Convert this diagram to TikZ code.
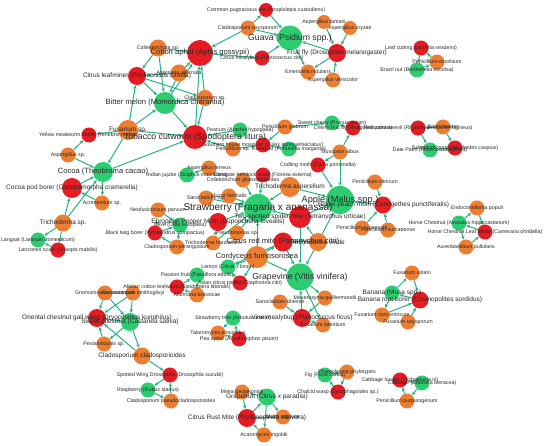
\documentclass[tikz,border=0pt]{standalone}
\usepackage{fontspec}
\setmainfont{Liberation Sans}
\usetikzlibrary{arrows.meta}
\definecolor{hostgreen}{RGB}{46,204,113}
\definecolor{pestred}{RGB}{229,28,35}
\definecolor{fungorange}{RGB}{237,125,49}
\definecolor{linkgreen}{RGB}{40,178,132}
\definecolor{labgrey}{RGB}{40,40,40}
\tikzstyle{host} = [circle, fill=hostgreen, inner sep=0pt, minimum size=15pt]
\tikzstyle{pest} = [circle, fill=pestred, inner sep=0pt, minimum size=15pt]
\tikzstyle{fungus} = [circle, fill=fungorange, inner sep=0pt, minimum size=15pt]
\tikzstyle{link} = [draw=linkgreen, line width=1pt, -{Stealth[length=3.8pt,width=3.4pt]}]
\tikzstyle{lab} = [inner sep=0pt, text=labgrey, font=\fontsize{5.3}{6}\selectfont]
\tikzstyle{labm} = [lab, font=\fontsize{6.5}{7}\selectfont]
\tikzstyle{labb} = [lab, font=\fontsize{7.6}{8}\selectfont]
\tikzstyle{labh} = [lab, font=\fontsize{8.7}{9}\selectfont]
\pgfdeclarelayer{background}
\pgfdeclarelayer{foreground}
\pgfsetlayers{background,main,foreground}

\begin{document}
\begin{tikzpicture}[x=1pt,y=-1pt]
    \useasboundingbox (0,0) rectangle (550,446);

    % hosts
    \node[host, minimum size=25pt] (gua) at (290,38) {};
    \node[host, minimum size=22pt] (bit) at (165,103) {};
    \node[host, minimum size=20pt] (coc) at (103,172) {};
    \node[host] (lan) at (38,240) {};
    \node[host] (juj) at (187,175) {};
    \node[host] (pnt) at (240,130) {};
    \node[host] (kum) at (289,149) {};
    \node[host] (che) at (332,123) {};
    \node[host] (bra) at (417,70) {};
    \node[host] (dat) at (430,150) {};
    \node[host, minimum size=28pt] (str) at (258,208) {};
    \node[host, minimum size=28pt] (app) at (340,200) {};
    \node[host, minimum size=27pt] (gra) at (300,277) {};
    \node[host] (oli) at (180,225) {};
    \node[host] (lem) at (228,267) {};
    \node[host] (pas) at (197,275) {};
    \node[host] (hor) at (459,223) {};
    \node[host] (ban) at (392,293) {};
    \node[host] (stt) at (233,318) {};
    \node[host, minimum size=18pt] (sch) at (130,322) {};
    \node[host] (ras) at (148,390) {};
    \node[host, minimum size=17pt] (grf) at (267,397) {};
    \node[host] (fig) at (325,375) {};
    \node[host] (cab) at (422,383) {};

    % pests
    \node[pest, minimum size=26pt] (apg) at (200,53) {};
    \node[pest, minimum size=14pt] (ant) at (266,10) {};
    \node[pest] (cmb) at (262,58) {};
    \node[pest, minimum size=18pt] (ffl) at (337,53) {};
    \node[pest, minimum size=18pt] (clm) at (137,76) {};
    \node[pest, minimum size=24pt] (tcw) at (195,137) {};
    \node[pest] (ymw) at (89,135) {};
    \node[pest, minimum size=20pt] (cpb) at (72,188) {};
    \node[pest] (lsc) at (58,250) {};
    \node[pest] (shm) at (263,145) {};
    \node[pest] (cfr) at (353,128) {};
    \node[pest] (lca) at (421,48) {};
    \node[pest] (rpw) at (418,128) {};
    \node[pest] (smq) at (455,148) {};
    \node[pest] (hem) at (263,175) {};
    \node[pest] (cdm) at (318,165) {};
    \node[pest, minimum size=17pt] (ypm) at (383,205) {};
    \node[pest, minimum size=18pt] (epm) at (218,222) {};
    \node[pest, minimum size=22pt] (tsm) at (300,217) {};
    \node[pest, minimum size=19pt] (crm) at (283,242) {};
    \node[pest] (btb) at (155,233) {};
    \node[pest] (acp) at (240,283) {};
    \node[pest] (acl) at (177,287) {};
    \node[pest] (hlm) at (485,232) {};
    \node[pest, minimum size=17pt] (brb) at (420,300) {};
    \node[pest, minimum size=18pt] (vmb) at (302,318) {};
    \node[pest] (pap) at (239,339) {};
    \node[pest, minimum size=18pt] (ocg) at (97,318) {};
    \node[pest] (swd) at (170,375) {};
    \node[pest, minimum size=18pt] (crt) at (247,418) {};
    \node[pest] (chw) at (338,392) {};
    \node[pest] (cbl) at (400,380) {};

    % fungi
    \node[fungus, minimum size=17pt] (col) at (158,48) {};
    \node[fungus, minimum size=17pt] (alt) at (179,73) {};
    \node[fungus, minimum size=16pt] (cls) at (205,98) {};
    \node[fungus, minimum size=20pt] (fus) at (128,130) {};
    \node[fungus] (clo) at (248,28) {};
    \node[fungus, minimum size=14pt] (ata) at (324,22) {};
    \node[fungus, minimum size=14pt] (aor) at (350,28) {};
    \node[fungus] (emn) at (308,72) {};
    \node[fungus] (ave) at (333,80) {};
    \node[fungus] (asp) at (68,155) {};
    \node[fungus] (acr) at (102,203) {};
    \node[fungus, minimum size=17pt] (trs) at (63,223) {};
    \node[fungus] (pgl) at (285,127) {};
    \node[fungus] (pex) at (437,62) {};
    \node[fungus] (ent) at (443,127) {};
    \node[fungus] (pen) at (233,149) {};
    \node[fungus] (ate) at (209,168) {};
    \node[fungus] (cgl) at (243,180) {};
    \node[fungus] (mus) at (340,152) {};
    \node[fungus, minimum size=20pt] (tas) at (290,187) {};
    \node[fungus] (pci) at (375,182) {};
    \node[fungus] (pep) at (362,228) {};
    \node[fungus] (psu) at (388,230) {};
    \node[fungus] (nep) at (158,210) {};
    \node[fungus] (sro) at (206,198) {};
    \node[fungus] (muc) at (229,196) {};
    \node[fungus] (pse) at (237,233) {};
    \node[fungus] (tha) at (213,243) {};
    \node[fungus] (cpe) at (177,247) {};
    \node[fungus, minimum size=18pt] (tvi) at (318,242) {};
    \node[fungus, minimum size=22pt] (cfu) at (257,257) {};
    \node[fungus] (abr) at (197,295) {};
    \node[fungus] (edp) at (477,208) {};
    \node[fungus] (aup) at (466,247) {};
    \node[fungus] (fso) at (412,273) {};
    \node[fungus] (fco) at (382,315) {};
    \node[fungus] (fox) at (408,322) {};
    \node[fungus] (skl) at (280,302) {};
    \node[fungus] (mey) at (325,298) {};
    \node[fungus] (fla) at (323,325) {};
    \node[fungus] (tal) at (218,333) {};
    \node[fungus] (gca) at (105,293) {};
    \node[fungus] (gsm) at (133,293) {};
    \node[fungus] (pes) at (104,344) {};
    \node[fungus, minimum size=17pt] (ccl) at (142,356) {};
    \node[fungus] (cps) at (171,401) {};
    \node[fungus] (phy) at (347,372) {};
    \node[fungus] (ppu) at (407,401) {};
    \node[fungus] (mge) at (242,392) {};
    \node[fungus] (mar) at (283,417) {};
    \node[fungus] (aci) at (264,435) {};

    \begin{pgfonlayer}{background}
    \path (col) edge[link] (clm) edge[link] (bit) edge[link] (apg);
    \path (alt) edge[link] (clm) edge[link] (apg) edge[link] (bit);
    \path (clm) edge[link] (bit) edge[link] (cls);
    \path (bit) edge[link] (apg) edge[link] (tcw);
    \path (cls) edge[link] (apg) edge[link] (bit) edge[link] (tcw);
    \path (fus) edge[link] (bit) edge[link] (tcw) edge[link] (ymw) edge[link] (coc) edge[link] (clm);
    \path (tcw) edge[link] (apg);
    \path (pnt) edge[link] (tcw);
    \path (asp) edge[link] (ymw) edge[link] (coc);
    \path (cpb) edge[link] (coc);
    \path (acr) edge[link] (cpb);
    \path (coc) edge[link] (acr) edge[link] (tcw);
    \path (trs) edge[link] (cpb) edge[link] (coc) edge[link] (lsc) edge[link] (lan);
    \path (lsc) edge[link] (lan);
    \path (clo) edge[link] (apg) edge[link] (gua) edge[link] (ant);
    \path (ant) edge[link] (gua);
    \path (apg) edge[link] (cmb);
    \path (cmb) edge[link] (gua);
    \path (ffl) edge[link] (gua) edge[link] (emn);
    \path (ata) edge[link] (ffl);
    \path (aor) edge[link] (ffl);
    \path (ave) edge[link] (ffl);
    \path (gua) edge[link] (emn);
    \path (pen) edge[link] (tcw) edge[link] (shm);
    \path (pgl) edge[link] (shm) edge[link] (che);
    \path (shm) edge[link] (kum);
    \path (cfr) edge[link] (che);
    \path (mus) edge[link] (cfr) edge[link] (app) edge[link] (cdm);
    \path (cdm) edge[link] (app);
    \path (ypm) edge[link] (app);
    \path (pci) edge[link] (ypm);
    \path (pep) edge[link] (ypm);
    \path (psu) edge[link] (ypm);
    \path (tsm) edge[link] (app) edge[link] (str) edge[link] (gra);
    \path (tas) edge[link] (app) edge[link] (str);
    \path (tvi) edge[link] (app) edge[link] (tsm) edge[link] (gra) edge[link] (crm);
    \path (crm) edge[link] (gra) edge[link] (lem);
    \path (epm) edge[link] (str);
    \path (hem) edge[link] (str);
    \path (sro) edge[link] (str);
    \path (muc) edge[link] (str);
    \path (pse) edge[link] (str);
    \path (tha) edge[link] (str) edge[link] (epm);
    \path (cgl) edge[link] (str);
    \path (ate) edge[link] (juj);
    \path (cfu) edge[link] (str) edge[link] (acp) edge[link] (crm) edge[link] (lem) edge[link] (gra);
    \path (btb) edge[link] (oli);
    \path (nep) edge[link] (oli) edge[link] (btb);
    \path (cpe) edge[link] (btb);
    \path (oli) edge[link] (cpe);
    \path (acp) edge[link] (lem);
    \path (acl) edge[link] (pas);
    \path (abr) edge[link] (acl);
    \path (pas) edge[link] (abr);
    \path (vmb) edge[link] (gra);
    \path (mey) edge[link] (vmb);
    \path (skl) edge[link] (vmb);
    \path (fla) edge[link] (vmb);
    \path (gra) edge[link] (mey) edge[link] (fla);
    \path (stt) edge[link] (tal);
    \path (tal) edge[link] (pap);
    \path (pap) edge[link] (stt);
    \path (ocg) edge[link] (sch);
    \path (gca) edge[link] (ocg) edge[link] (sch);
    \path (gsm) edge[link] (ocg) edge[link] (sch);
    \path (pes) edge[link] (ocg);
    \path (sch) edge[link] (pes) edge[link] (ccl);
    \path (ccl) edge[link] (ocg) edge[link] (swd);
    \path (swd) edge[link] (ras);
    \path (cps) edge[link] (swd);
    \path (ras) edge[link] (cps);
    \path (crt) edge[link] (grf);
    \path (mge) edge[link] (crt);
    \path (mar) edge[link] (crt);
    \path (aci) edge[link] (crt);
    \path (grf) edge[link] (mge) edge[link] (mar) edge[link] (aci);
    \path (chw) edge[link] (fig);
    \path (phy) edge[link] (chw);
    \path (fig) edge[link] (phy);
    \path (cbl) edge[link] (cab);
    \path (ppu) edge[link] (cbl);
    \path (cab) edge[link] (ppu);
    \path (brb) edge[link] (ban);
    \path (fso) edge[link] (brb);
    \path (fco) edge[link] (brb);
    \path (fox) edge[link] (brb);
    \path (ban) edge[link] (fso) edge[link] (fco);
    \path (hlm) edge[link] (hor);
    \path (edp) edge[link] (hlm);
    \path (aup) edge[link] (hlm);
    \path (hor) edge[link] (edp) edge[link] (aup);
    \path (lca) edge[link] (bra);
    \path (pex) edge[link] (lca);
    \path (bra) edge[link] (pex);
    \path (rpw) edge[link] (dat);
    \path (ent) edge[link] (rpw) edge[link] (smq);
    \path (smq) edge[link] (dat);
    \end{pgfonlayer}

    \begin{pgfonlayer}{foreground}
    \node[labh] (tgua) at (gua) {Guava (Psidium spp.)};
    \node[labb] (tbit) at (bit) {Bitter melon (Momordica charantia)};
    \node[labb] (tcoc) at (coc) {Cocoa (Theobroma cacao)};
    \node[lab] (tlan) at (lan) {Langsat (Lansium domesticum)};
    \node[lab] (tjuj) at (juj) {Indian jujube (Ziziphus mauritiana)};
    \node[lab] (tpnt) at (pnt) {Peanuts (Arachis hypogaea)};
    \node[lab] (tkum) at (kum) {Kumquat (Fortunella margarita)};
    \node[lab] (tche) at (che) {Sweet cherry (Prunus avium)};
    \node[lab] (tbra) at (bra) {Brazil nut (Bertholletia excelsa)};
    \node[lab] (tdat) at (dat) {Date Palm (Phoenix dactylifera)};
    \node[lab, font=\fontsize{10}{11}\selectfont] (tstr) at (str) {Strawberry (Fragaria x ananassa)};
    \node[lab, font=\fontsize{9.2}{10}\selectfont] (tapp) at (app) {Apple (Malus spp.)};
    \node[labh] (tgra) at (gra) {Grapevine (Vitis vinifera)};
    \node[lab] (toli) at (oli) {Olive (Olea europaea)};
    \node[lab] (tlem) at (lem) {Lemon (Citrus x limon)};
    \node[lab] (tpas) at (pas) {Passion fruit (Passiflora edulis)};
    \node[lab] (thor) at (hor) {Horse Chestnut (Aesculus hippocastanum)};
    \node[labm] (tban) at (ban) {Banana (Musa spp.)};
    \node[lab] (tstt) at (stt) {Strawberry tree (Arbutus unedo)};
    \node[labm] (tsch) at (sch) {Sweet chestnut (Castanea sativa)};
    \node[lab] (tras) at (ras) {Raspberry (Rubus idaeus)};
    \node[labm] (tgrf) at (grf) {Grapefruit (Citrus x paradisi)};
    \node[lab] (tfig) at (fig) {Fig (Ficus carica)};
    \node[lab] (tcab) at (cab) {Cabbage (Brassica oleracea)};

    \node[labb] (tapg) at (apg) {Cotton aphid (Aphis gossypii)};
    \node[lab] (tant) at (ant) {Common pugnacious ant (Anoplolepis custodiens)};
    \node[lab] (tcmb) at (cmb) {Citrus mealybug (Planococcus citri)};
    \node[labm] (tffl) at (ffl) {Fruit fly (Drosophila melanogaster)};
    \node[labm] (tclm) at (clm) {Citrus leafminer (Phyllocnistis citrella)};
    \node[labh] (ttcw) at (tcw) {Tobacco cutworm (Spodoptera litura)};
    \node[lab] (tymw) at (ymw) {Yellow mealworm beetle (Tenebrio molitor)};
    \node[labm] (tcpb) at (cpb) {Cocoa pod borer (Conopomorpha cramerella)};
    \node[lab] (tlsc) at (lsc) {Lanzones scale (Unaspis mabilis)};
    \node[lab] (tshm) at (shm) {Southern house mosquito (Culex quinquefasciatus)};
    \node[lab] (tcfr) at (cfr) {Cherry fruit fly (Rhagoletis cerasi)};
    \node[lab] (tlca) at (lca) {Leaf cutting ant (Atta sexdens)};
    \node[lab] (trpw) at (rpw) {Red palm weevil (Rhynchophorus ferrugineus)};
    \node[lab] (tsmq) at (smq) {Saltmarsh mosquito (Aedes caspius)};
    \node[lab] (them) at (hem) {Elongate hemlock scale (Fiorinia externa)};
    \node[lab] (tcdm) at (cdm) {Codling moth (Cydia pomonella)};
    \node[labm] (typm) at (ypm) {Yellow peach moth (Conogethes punctiferalis)};
    \node[labm] (tepm) at (epm) {European Pepper Moth (Duponchelia fovealis)};
    \node[labm] (ttsm) at (tsm) {Two-spotted spider mite (Tetranychus urticae)};
    \node[labb] (tcrm) at (crm) {Citrus red mite (Panonychus citri)};
    \node[lab] (tbtb) at (btb) {Black twig borer (Xylosandrus compactus)};
    \node[lab] (tacp) at (acp) {Asian citrus psyllid (Diaphorina citri)};
    \node[lab] (tacl) at (acl) {African cotton leafworm (Spodoptera littoralis)};
    \node[lab] (thlm) at (hlm) {Horse Chestnut Leaf Miner (Cameraria ohridella)};
    \node[labm] (tbrb) at (brb) {Banana root borer (Cosmopolites sordidus)};
    \node[labm] (tvmb) at (vmb) {Vine mealybug (Planococcus ficus)};
    \node[lab] (tpap) at (pap) {Pea aphid (Acyrthosiphon pisum)};
    \node[labm] (tocg) at (ocg) {Oriental chestnut gall wasp (Dryocosmus kuriphilus)};
    \node[lab] (tswd) at (swd) {Spotted Wing Drosophila (Drosophila suzukii)};
    \node[labm] (tcrt) at (crt) {Citrus Rust Mite (Phyllocoptruta oleivora)};
    \node[lab] (tchw) at (chw) {Chalcid wasp (Sycophagoides sp.)};
    \node[lab] (tcbl) at (cbl) {Cabbage looper (Trichoplusia ni)};

    \node[lab] (tcol) at (col) {Colletotrichum sp.};
    \node[lab] (talt) at (alt) {Alternaria alternata};
    \node[lab] (tcls) at (cls) {Cladosporium sp.};
    \node[labm] (tfus) at (fus) {Fusarium sp.};
    \node[lab] (tclo) at (clo) {Cladosporium oxysporum};
    \node[lab] (tata) at (ata) {Aspergillus tamarii};
    \node[lab] (taor) at (aor) {Aspergillus oryzae};
    \node[lab] (temn) at (emn) {Emericella nidulans};
    \node[lab] (tave) at (ave) {Aspergillus versicolor};
    \node[lab] (tasp) at (asp) {Aspergillus sp.};
    \node[lab] (tacr) at (acr) {Acremonium sp.};
    \node[labm] (ttrs) at (trs) {Trichoderma sp.};
    \node[lab] (tpgl) at (pgl) {Penicillium glabrum};
    \node[lab] (tpex) at (pex) {Penicillium excelsum};
    \node[lab] (tent) at (ent) {Enterobacter};
    \node[lab] (tpen) at (pen) {Penicillium sp.};
    \node[lab] (tate) at (ate) {Aspergillus terreus};
    \node[lab] (tcgl) at (cgl) {Colletotrichum gloeosporioides};
    \node[lab] (tmus) at (mus) {Muscodor albus};
    \node[labm] (ttas) at (tas) {Trichoderma asperellum};
    \node[lab] (tpci) at (pci) {Penicillium citrinum};
    \node[lab] (tpep) at (pep) {Penicillium expansum};
    \node[lab] (tpsu) at (psu) {Penicillium sumatrense};
    \node[lab] (tnep) at (nep) {Neofusicoccum parvum};
    \node[lab] (tsro) at (sro) {Sarocladium sp.};
    \node[lab] (tmuc) at (muc) {Mucor hiemalis};
    \node[lab] (tpse) at (pse) {Pseudomonas sp.};
    \node[lab] (ttha) at (tha) {Trichoderma harzianum};
    \node[lab] (tcpe) at (cpe) {Cladosporium perangustum};
    \node[labm] (ttvi) at (tvi) {Trichoderma viride};
    \node[labb] (tcfu) at (cfu) {Cordyceps fumosorosea};
    \node[lab] (tabr) at (abr) {Alternaria brassicae};
    \node[lab] (tedp) at (edp) {Endoconidioma populi};
    \node[lab] (taup) at (aup) {Aureobasidium pullulans};
    \node[lab] (tfso) at (fso) {Fusarium solani};
    \node[lab] (tfco) at (fco) {Fusarium concentricum};
    \node[lab] (tfox) at (fox) {Fusarium oxysporum};
    \node[lab] (tskl) at (skl) {Sarocladium kiliense};
    \node[lab] (tmey) at (mey) {Meyerozyma guilliermondii};
    \node[lab] (tfla) at (fla) {Fusarium lateritium};
    \node[lab] (ttal) at (tal) {Talaromyces pinophilus};
    \node[lab] (tgca) at (gca) {Gnomoniopsis castaneae};
    \node[lab] (tgsm) at (gsm) {Gnomoniopsis smithogilvyi};
    \node[lab] (tpes) at (pes) {Pestalotiopsis sp.};
    \node[labm] (tccl) at (ccl) {Cladosporium cladosporioides};
    \node[lab] (tcps) at (cps) {Cladosporium pseudocladosporioides};
    \node[lab] (tphy) at (phy) {Phytoplasma phylotypes};
    \node[lab] (tppu) at (ppu) {Penicillium purpurogenum};
    \node[lab] (tmge) at (mge) {Meira geulakonigii};
    \node[lab] (tmar) at (mar) {Meira argovae};
    \node[lab] (taci) at (aci) {Acaromyces ingoldii};
    \end{pgfonlayer}
\end{tikzpicture}
\end{document}
